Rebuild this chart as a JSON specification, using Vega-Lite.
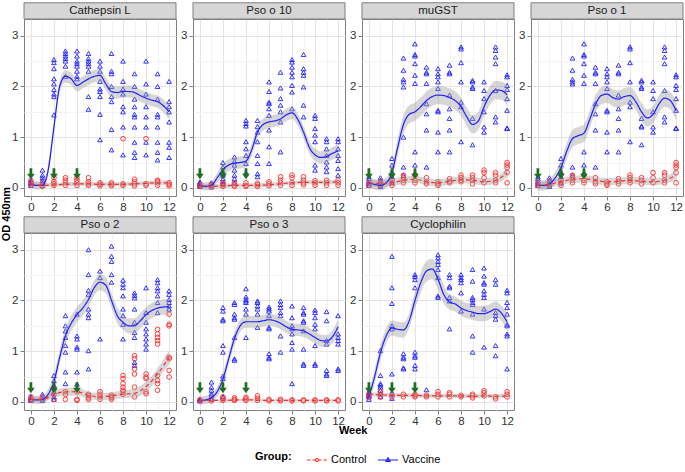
{
"$schema":"https://vega.github.io/schema/vega-lite/v6.json",
"padding":{"left":0,"top":1,"right":0,"bottom":0},
"background":"white",
"data":{"values":[
{"p":"A","n":"Cathepsin L"},{"p":"B","n":"Pso o 10"},{"p":"C","n":"muGST"},{"p":"D","n":"Pso o 1"},{"p":"E","n":"Pso o 2"},{"p":"F","n":"Pso o 3"},{"p":"G","n":"Cyclophilin"},
{"p":"A","t":"OD 450nm"},{"p":"F","t":"Week"},
{"p":"A","a":0},{"p":"A","a":2},{"p":"A","a":4},{"p":"B","a":0},{"p":"B","a":2},{"p":"B","a":4},{"p":"C","a":0},{"p":"C","a":2},{"p":"C","a":4},{"p":"D","a":0},{"p":"D","a":2},{"p":"D","a":4},{"p":"E","a":0},{"p":"E","a":2},{"p":"E","a":4},{"p":"F","a":0},{"p":"F","a":2},{"p":"F","a":4},{"p":"G","a":0},{"p":"G","a":2},{"p":"G","a":4},

{"p":"A","g":"V","w":0,"y":0.05},{"p":"A","g":"V","w":0,"y":0.08},{"p":"A","g":"V","w":0,"y":0.1},{"p":"A","g":"V","w":0,"y":0.12},{"p":"A","g":"V","w":0,"y":0.15},
{"p":"A","g":"V","w":1,"y":0.05},{"p":"A","g":"V","w":1,"y":0.1},{"p":"A","g":"V","w":1,"y":0.15},{"p":"A","g":"V","w":1,"y":0.2},{"p":"A","g":"V","w":1,"y":0.25},{"p":"A","g":"V","w":1,"y":0.35},
{"p":"A","g":"V","w":2,"y":2.53},{"p":"A","g":"V","w":2,"y":2.47},{"p":"A","g":"V","w":2,"y":2.35},{"p":"A","g":"V","w":2,"y":2.15},{"p":"A","g":"V","w":2,"y":2.05},{"p":"A","g":"V","w":2,"y":1.94},{"p":"A","g":"V","w":2,"y":1.85},{"p":"A","g":"V","w":2,"y":1.8},{"p":"A","g":"V","w":2,"y":1.44},
{"p":"A","g":"V","w":3,"y":2.7},{"p":"A","g":"V","w":3,"y":2.65},{"p":"A","g":"V","w":3,"y":2.6},{"p":"A","g":"V","w":3,"y":2.55},{"p":"A","g":"V","w":3,"y":2.5},{"p":"A","g":"V","w":3,"y":2.4},{"p":"A","g":"V","w":3,"y":2.2},
{"p":"A","g":"V","w":4,"y":2.7},{"p":"A","g":"V","w":4,"y":2.6},{"p":"A","g":"V","w":4,"y":2.5},{"p":"A","g":"V","w":4,"y":2.45},{"p":"A","g":"V","w":4,"y":2.4},{"p":"A","g":"V","w":4,"y":2.3},{"p":"A","g":"V","w":4,"y":2.2},{"p":"A","g":"V","w":4,"y":2.15},
{"p":"A","g":"V","w":5,"y":2.65},{"p":"A","g":"V","w":5,"y":2.55},{"p":"A","g":"V","w":5,"y":2.5},{"p":"A","g":"V","w":5,"y":2.45},{"p":"A","g":"V","w":5,"y":2.4},{"p":"A","g":"V","w":5,"y":2.3},{"p":"A","g":"V","w":5,"y":1.8},{"p":"A","g":"V","w":5,"y":1.55},
{"p":"A","g":"V","w":6,"y":2.5},{"p":"A","g":"V","w":6,"y":2.4},{"p":"A","g":"V","w":6,"y":2.3},{"p":"A","g":"V","w":6,"y":2.1},{"p":"A","g":"V","w":6,"y":1.95},{"p":"A","g":"V","w":6,"y":1.9},{"p":"A","g":"V","w":6,"y":1.8},{"p":"A","g":"V","w":6,"y":1.45},{"p":"A","g":"V","w":6,"y":0.95},
{"p":"A","g":"V","w":7,"y":2.65},{"p":"A","g":"V","w":7,"y":2.3},{"p":"A","g":"V","w":7,"y":2.25},{"p":"A","g":"V","w":7,"y":2.0},{"p":"A","g":"V","w":7,"y":1.8},{"p":"A","g":"V","w":7,"y":1.7},{"p":"A","g":"V","w":7,"y":1.15},{"p":"A","g":"V","w":7,"y":0.75},
{"p":"A","g":"V","w":8,"y":2.5},{"p":"A","g":"V","w":8,"y":2.1},{"p":"A","g":"V","w":8,"y":1.95},{"p":"A","g":"V","w":8,"y":1.85},{"p":"A","g":"V","w":8,"y":1.6},{"p":"A","g":"V","w":8,"y":1.5},{"p":"A","g":"V","w":8,"y":1.2},{"p":"A","g":"V","w":8,"y":0.65},
{"p":"A","g":"V","w":9,"y":2.25},{"p":"A","g":"V","w":9,"y":2.0},{"p":"A","g":"V","w":9,"y":1.75},{"p":"A","g":"V","w":9,"y":1.6},{"p":"A","g":"V","w":9,"y":1.45},{"p":"A","g":"V","w":9,"y":1.4},{"p":"A","g":"V","w":9,"y":1.2},{"p":"A","g":"V","w":9,"y":0.9},{"p":"A","g":"V","w":9,"y":0.7},{"p":"A","g":"V","w":9,"y":0.6},
{"p":"A","g":"V","w":10,"y":2.5},{"p":"A","g":"V","w":10,"y":2.05},{"p":"A","g":"V","w":10,"y":1.85},{"p":"A","g":"V","w":10,"y":1.6},{"p":"A","g":"V","w":10,"y":1.4},{"p":"A","g":"V","w":10,"y":1.2},{"p":"A","g":"V","w":10,"y":0.9},{"p":"A","g":"V","w":10,"y":0.65},
{"p":"A","g":"V","w":11,"y":2.25},{"p":"A","g":"V","w":11,"y":2.0},{"p":"A","g":"V","w":11,"y":1.75},{"p":"A","g":"V","w":11,"y":1.45},{"p":"A","g":"V","w":11,"y":1.4},{"p":"A","g":"V","w":11,"y":1.2},{"p":"A","g":"V","w":11,"y":0.9},{"p":"A","g":"V","w":11,"y":0.7},{"p":"A","g":"V","w":11,"y":0.55},
{"p":"A","g":"V","w":12,"y":2.1},{"p":"A","g":"V","w":12,"y":1.7},{"p":"A","g":"V","w":12,"y":1.6},{"p":"A","g":"V","w":12,"y":1.5},{"p":"A","g":"V","w":12,"y":1.3},{"p":"A","g":"V","w":12,"y":0.9},{"p":"A","g":"V","w":12,"y":0.8},{"p":"A","g":"V","w":12,"y":0.6},
{"p":"A","g":"C","w":0,"y":0.05},{"p":"A","g":"C","w":0,"y":0.1},{"p":"A","g":"C","w":0,"y":0.15},
{"p":"A","g":"C","w":1,"y":0.03},{"p":"A","g":"C","w":1,"y":0.05},{"p":"A","g":"C","w":1,"y":0.1},
{"p":"A","g":"C","w":2,"y":0.05},{"p":"A","g":"C","w":2,"y":0.08},{"p":"A","g":"C","w":2,"y":0.12},{"p":"A","g":"C","w":2,"y":0.2},
{"p":"A","g":"C","w":3,"y":0.05},{"p":"A","g":"C","w":3,"y":0.1},{"p":"A","g":"C","w":3,"y":0.15},{"p":"A","g":"C","w":3,"y":0.2},
{"p":"A","g":"C","w":4,"y":0.05},{"p":"A","g":"C","w":4,"y":0.1},{"p":"A","g":"C","w":4,"y":0.15},{"p":"A","g":"C","w":4,"y":0.2},
{"p":"A","g":"C","w":5,"y":0.05},{"p":"A","g":"C","w":5,"y":0.08},{"p":"A","g":"C","w":5,"y":0.12},{"p":"A","g":"C","w":5,"y":0.2},
{"p":"A","g":"C","w":6,"y":0.04},{"p":"A","g":"C","w":6,"y":0.07},{"p":"A","g":"C","w":6,"y":0.1},
{"p":"A","g":"C","w":7,"y":0.04},{"p":"A","g":"C","w":7,"y":0.07},{"p":"A","g":"C","w":7,"y":0.1},
{"p":"A","g":"C","w":8,"y":0.05},{"p":"A","g":"C","w":8,"y":0.08},{"p":"A","g":"C","w":8,"y":0.97},
{"p":"A","g":"C","w":9,"y":0.04},{"p":"A","g":"C","w":9,"y":0.08},{"p":"A","g":"C","w":9,"y":0.12},{"p":"A","g":"C","w":9,"y":0.17},
{"p":"A","g":"C","w":10,"y":0.05},{"p":"A","g":"C","w":10,"y":0.08},{"p":"A","g":"C","w":10,"y":0.97},
{"p":"A","g":"C","w":11,"y":0.05},{"p":"A","g":"C","w":11,"y":0.1},{"p":"A","g":"C","w":11,"y":0.13},{"p":"A","g":"C","w":11,"y":0.15},
{"p":"A","g":"C","w":12,"y":0.04},{"p":"A","g":"C","w":12,"y":0.07},{"p":"A","g":"C","w":12,"y":0.1},

{"p":"B","g":"V","w":0,"y":0.03},{"p":"B","g":"V","w":0,"y":0.05},{"p":"B","g":"V","w":0,"y":0.08},{"p":"B","g":"V","w":0,"y":0.1},{"p":"B","g":"V","w":0,"y":0.12},
{"p":"B","g":"V","w":1,"y":0.02},{"p":"B","g":"V","w":1,"y":0.05},{"p":"B","g":"V","w":1,"y":0.08},{"p":"B","g":"V","w":1,"y":0.1},
{"p":"B","g":"V","w":2,"y":0.5},{"p":"B","g":"V","w":2,"y":0.41},{"p":"B","g":"V","w":2,"y":0.32},{"p":"B","g":"V","w":2,"y":0.25},{"p":"B","g":"V","w":2,"y":0.18},{"p":"B","g":"V","w":2,"y":0.12},{"p":"B","g":"V","w":2,"y":0.08},
{"p":"B","g":"V","w":3,"y":0.61},{"p":"B","g":"V","w":3,"y":0.52},{"p":"B","g":"V","w":3,"y":0.45},{"p":"B","g":"V","w":3,"y":0.35},{"p":"B","g":"V","w":3,"y":0.25},{"p":"B","g":"V","w":3,"y":0.18},{"p":"B","g":"V","w":3,"y":0.1},
{"p":"B","g":"V","w":4,"y":1.33},{"p":"B","g":"V","w":4,"y":1.27},{"p":"B","g":"V","w":4,"y":1.22},{"p":"B","g":"V","w":4,"y":0.91},{"p":"B","g":"V","w":4,"y":0.77},{"p":"B","g":"V","w":4,"y":0.64},{"p":"B","g":"V","w":4,"y":0.48},{"p":"B","g":"V","w":4,"y":0.3},
{"p":"B","g":"V","w":5,"y":1.33},{"p":"B","g":"V","w":5,"y":1.21},{"p":"B","g":"V","w":5,"y":1.1},{"p":"B","g":"V","w":5,"y":0.91},{"p":"B","g":"V","w":5,"y":0.64},{"p":"B","g":"V","w":5,"y":0.48},{"p":"B","g":"V","w":5,"y":0.28},{"p":"B","g":"V","w":5,"y":0.22},
{"p":"B","g":"V","w":6,"y":2.09},{"p":"B","g":"V","w":6,"y":1.9},{"p":"B","g":"V","w":6,"y":1.69},{"p":"B","g":"V","w":6,"y":1.66},{"p":"B","g":"V","w":6,"y":1.56},{"p":"B","g":"V","w":6,"y":1.43},{"p":"B","g":"V","w":6,"y":1.14},{"p":"B","g":"V","w":6,"y":0.81},{"p":"B","g":"V","w":6,"y":0.48},
{"p":"B","g":"V","w":7,"y":2.28},{"p":"B","g":"V","w":7,"y":1.97},{"p":"B","g":"V","w":7,"y":1.76},{"p":"B","g":"V","w":7,"y":1.63},{"p":"B","g":"V","w":7,"y":1.5},{"p":"B","g":"V","w":7,"y":1.3},{"p":"B","g":"V","w":7,"y":0.71},
{"p":"B","g":"V","w":8,"y":2.53},{"p":"B","g":"V","w":8,"y":2.48},{"p":"B","g":"V","w":8,"y":2.38},{"p":"B","g":"V","w":8,"y":2.28},{"p":"B","g":"V","w":8,"y":2.19},{"p":"B","g":"V","w":8,"y":2.02},{"p":"B","g":"V","w":8,"y":1.89},{"p":"B","g":"V","w":8,"y":1.56},
{"p":"B","g":"V","w":9,"y":2.63},{"p":"B","g":"V","w":9,"y":2.35},{"p":"B","g":"V","w":9,"y":2.28},{"p":"B","g":"V","w":9,"y":2.22},{"p":"B","g":"V","w":9,"y":1.99},{"p":"B","g":"V","w":9,"y":1.63},{"p":"B","g":"V","w":9,"y":1.4},
{"p":"B","g":"V","w":10,"y":1.43},{"p":"B","g":"V","w":10,"y":1.37},{"p":"B","g":"V","w":10,"y":1.17},{"p":"B","g":"V","w":10,"y":1.04},{"p":"B","g":"V","w":10,"y":0.91},{"p":"B","g":"V","w":10,"y":0.45},{"p":"B","g":"V","w":10,"y":0.35},
{"p":"B","g":"V","w":11,"y":0.97},{"p":"B","g":"V","w":11,"y":0.91},{"p":"B","g":"V","w":11,"y":0.77},{"p":"B","g":"V","w":11,"y":0.64},{"p":"B","g":"V","w":11,"y":0.51},{"p":"B","g":"V","w":11,"y":0.41},{"p":"B","g":"V","w":11,"y":0.32},
{"p":"B","g":"V","w":12,"y":0.97},{"p":"B","g":"V","w":12,"y":0.91},{"p":"B","g":"V","w":12,"y":0.77},{"p":"B","g":"V","w":12,"y":0.64},{"p":"B","g":"V","w":12,"y":0.54},{"p":"B","g":"V","w":12,"y":0.38},{"p":"B","g":"V","w":12,"y":0.25},
{"p":"B","g":"C","w":0,"y":0.03},{"p":"B","g":"C","w":0,"y":0.06},
{"p":"B","g":"C","w":1,"y":0.02},{"p":"B","g":"C","w":1,"y":0.05},{"p":"B","g":"C","w":1,"y":0.08},
{"p":"B","g":"C","w":2,"y":0.03},{"p":"B","g":"C","w":2,"y":0.06},{"p":"B","g":"C","w":2,"y":0.1},
{"p":"B","g":"C","w":3,"y":0.03},{"p":"B","g":"C","w":3,"y":0.06},{"p":"B","g":"C","w":3,"y":0.1},
{"p":"B","g":"C","w":4,"y":0.03},{"p":"B","g":"C","w":4,"y":0.05},{"p":"B","g":"C","w":4,"y":0.1},
{"p":"B","g":"C","w":5,"y":0.03},{"p":"B","g":"C","w":5,"y":0.06},{"p":"B","g":"C","w":5,"y":0.09},
{"p":"B","g":"C","w":6,"y":0.04},{"p":"B","g":"C","w":6,"y":0.08},{"p":"B","g":"C","w":6,"y":0.12},
{"p":"B","g":"C","w":7,"y":0.05},{"p":"B","g":"C","w":7,"y":0.1},{"p":"B","g":"C","w":7,"y":0.15},{"p":"B","g":"C","w":7,"y":0.22},
{"p":"B","g":"C","w":8,"y":0.05},{"p":"B","g":"C","w":8,"y":0.1},{"p":"B","g":"C","w":8,"y":0.2},{"p":"B","g":"C","w":8,"y":0.25},
{"p":"B","g":"C","w":9,"y":0.06},{"p":"B","g":"C","w":9,"y":0.1},{"p":"B","g":"C","w":9,"y":0.15},{"p":"B","g":"C","w":9,"y":0.22},
{"p":"B","g":"C","w":10,"y":0.05},{"p":"B","g":"C","w":10,"y":0.1},{"p":"B","g":"C","w":10,"y":0.14},
{"p":"B","g":"C","w":11,"y":0.05},{"p":"B","g":"C","w":11,"y":0.1},{"p":"B","g":"C","w":11,"y":0.15},
{"p":"B","g":"C","w":12,"y":0.05},{"p":"B","g":"C","w":12,"y":0.1},{"p":"B","g":"C","w":12,"y":0.15},

{"p":"C","g":"V","w":0,"y":0.05},{"p":"C","g":"V","w":0,"y":0.08},{"p":"C","g":"V","w":0,"y":0.12},{"p":"C","g":"V","w":0,"y":0.18},{"p":"C","g":"V","w":0,"y":0.22},
{"p":"C","g":"V","w":1,"y":0.03},{"p":"C","g":"V","w":1,"y":0.06},{"p":"C","g":"V","w":1,"y":0.1},{"p":"C","g":"V","w":1,"y":0.15},{"p":"C","g":"V","w":1,"y":0.2},
{"p":"C","g":"V","w":2,"y":0.58},{"p":"C","g":"V","w":2,"y":0.45},{"p":"C","g":"V","w":2,"y":0.32},{"p":"C","g":"V","w":2,"y":0.22},{"p":"C","g":"V","w":2,"y":0.1},
{"p":"C","g":"V","w":3,"y":2.56},{"p":"C","g":"V","w":3,"y":2.32},{"p":"C","g":"V","w":3,"y":2.14},{"p":"C","g":"V","w":3,"y":2.09},{"p":"C","g":"V","w":3,"y":1.99},{"p":"C","g":"V","w":3,"y":1.0},{"p":"C","g":"V","w":3,"y":0.41},{"p":"C","g":"V","w":3,"y":0.25},
{"p":"C","g":"V","w":4,"y":2.84},{"p":"C","g":"V","w":4,"y":2.63},{"p":"C","g":"V","w":4,"y":2.6},{"p":"C","g":"V","w":4,"y":2.45},{"p":"C","g":"V","w":4,"y":2.22},{"p":"C","g":"V","w":4,"y":2.06},{"p":"C","g":"V","w":4,"y":0.71},{"p":"C","g":"V","w":4,"y":0.45},{"p":"C","g":"V","w":4,"y":0.3},
{"p":"C","g":"V","w":5,"y":2.38},{"p":"C","g":"V","w":5,"y":2.28},{"p":"C","g":"V","w":5,"y":2.25},{"p":"C","g":"V","w":5,"y":2.06},{"p":"C","g":"V","w":5,"y":1.66},{"p":"C","g":"V","w":5,"y":1.46},{"p":"C","g":"V","w":5,"y":1.14},{"p":"C","g":"V","w":5,"y":0.41},
{"p":"C","g":"V","w":6,"y":2.35},{"p":"C","g":"V","w":6,"y":2.25},{"p":"C","g":"V","w":6,"y":2.19},{"p":"C","g":"V","w":6,"y":2.09},{"p":"C","g":"V","w":6,"y":1.96},{"p":"C","g":"V","w":6,"y":1.53},{"p":"C","g":"V","w":6,"y":1.5},{"p":"C","g":"V","w":6,"y":1.1},{"p":"C","g":"V","w":6,"y":0.71},
{"p":"C","g":"V","w":7,"y":2.42},{"p":"C","g":"V","w":7,"y":2.28},{"p":"C","g":"V","w":7,"y":2.25},{"p":"C","g":"V","w":7,"y":1.83},{"p":"C","g":"V","w":7,"y":1.56},{"p":"C","g":"V","w":7,"y":1.37},{"p":"C","g":"V","w":7,"y":1.14},{"p":"C","g":"V","w":7,"y":0.71},
{"p":"C","g":"V","w":8,"y":2.78},{"p":"C","g":"V","w":8,"y":2.74},{"p":"C","g":"V","w":8,"y":2.47},{"p":"C","g":"V","w":8,"y":2.09},{"p":"C","g":"V","w":8,"y":1.69},{"p":"C","g":"V","w":8,"y":1.6},{"p":"C","g":"V","w":8,"y":0.91},
{"p":"C","g":"V","w":9,"y":2.12},{"p":"C","g":"V","w":9,"y":2.09},{"p":"C","g":"V","w":9,"y":1.99},{"p":"C","g":"V","w":9,"y":1.96},{"p":"C","g":"V","w":9,"y":1.37},{"p":"C","g":"V","w":9,"y":0.85},
{"p":"C","g":"V","w":10,"y":2.09},{"p":"C","g":"V","w":10,"y":1.92},{"p":"C","g":"V","w":10,"y":1.76},{"p":"C","g":"V","w":10,"y":1.5},{"p":"C","g":"V","w":10,"y":1.2},{"p":"C","g":"V","w":10,"y":1.1},
{"p":"C","g":"V","w":11,"y":2.78},{"p":"C","g":"V","w":11,"y":2.71},{"p":"C","g":"V","w":11,"y":2.58},{"p":"C","g":"V","w":11,"y":2.45},{"p":"C","g":"V","w":11,"y":1.92},{"p":"C","g":"V","w":11,"y":1.4},{"p":"C","g":"V","w":11,"y":1.3},
{"p":"C","g":"V","w":12,"y":2.23},{"p":"C","g":"V","w":12,"y":2.19},{"p":"C","g":"V","w":12,"y":2.02},{"p":"C","g":"V","w":12,"y":1.94},{"p":"C","g":"V","w":12,"y":1.76},{"p":"C","g":"V","w":12,"y":1.53},{"p":"C","g":"V","w":12,"y":1.18},{"p":"C","g":"V","w":12,"y":1.17},
{"p":"C","g":"C","w":0,"y":0.05},{"p":"C","g":"C","w":0,"y":0.1},
{"p":"C","g":"C","w":1,"y":0.05},{"p":"C","g":"C","w":1,"y":0.1},{"p":"C","g":"C","w":1,"y":0.12},
{"p":"C","g":"C","w":2,"y":0.05},{"p":"C","g":"C","w":2,"y":0.1},{"p":"C","g":"C","w":2,"y":0.15},
{"p":"C","g":"C","w":3,"y":0.1},{"p":"C","g":"C","w":3,"y":0.15},{"p":"C","g":"C","w":3,"y":0.2},{"p":"C","g":"C","w":3,"y":0.25},
{"p":"C","g":"C","w":4,"y":0.1},{"p":"C","g":"C","w":4,"y":0.15},{"p":"C","g":"C","w":4,"y":0.25},
{"p":"C","g":"C","w":5,"y":0.08},{"p":"C","g":"C","w":5,"y":0.12},{"p":"C","g":"C","w":5,"y":0.2},
{"p":"C","g":"C","w":6,"y":0.05},{"p":"C","g":"C","w":6,"y":0.08},{"p":"C","g":"C","w":6,"y":0.12},
{"p":"C","g":"C","w":7,"y":0.1},{"p":"C","g":"C","w":7,"y":0.13},{"p":"C","g":"C","w":7,"y":0.18},
{"p":"C","g":"C","w":8,"y":0.12},{"p":"C","g":"C","w":8,"y":0.15},{"p":"C","g":"C","w":8,"y":0.2},{"p":"C","g":"C","w":8,"y":0.25},
{"p":"C","g":"C","w":9,"y":0.08},{"p":"C","g":"C","w":9,"y":0.15},{"p":"C","g":"C","w":9,"y":0.2},{"p":"C","g":"C","w":9,"y":0.25},
{"p":"C","g":"C","w":10,"y":0.1},{"p":"C","g":"C","w":10,"y":0.2},{"p":"C","g":"C","w":10,"y":0.3},{"p":"C","g":"C","w":10,"y":0.35},
{"p":"C","g":"C","w":11,"y":0.1},{"p":"C","g":"C","w":11,"y":0.15},{"p":"C","g":"C","w":11,"y":0.25},{"p":"C","g":"C","w":11,"y":0.3},
{"p":"C","g":"C","w":12,"y":0.1},{"p":"C","g":"C","w":12,"y":0.3},{"p":"C","g":"C","w":12,"y":0.4},{"p":"C","g":"C","w":12,"y":0.45},{"p":"C","g":"C","w":12,"y":0.5},

{"p":"D","g":"V","w":0,"y":0.05},{"p":"D","g":"V","w":0,"y":0.08},{"p":"D","g":"V","w":0,"y":0.12},{"p":"D","g":"V","w":0,"y":0.18},{"p":"D","g":"V","w":0,"y":0.22},
{"p":"D","g":"V","w":1,"y":0.03},{"p":"D","g":"V","w":1,"y":0.06},{"p":"D","g":"V","w":1,"y":0.1},{"p":"D","g":"V","w":1,"y":0.15},{"p":"D","g":"V","w":1,"y":0.2},
{"p":"D","g":"V","w":2,"y":0.58},{"p":"D","g":"V","w":2,"y":0.45},{"p":"D","g":"V","w":2,"y":0.32},{"p":"D","g":"V","w":2,"y":0.22},{"p":"D","g":"V","w":2,"y":0.1},
{"p":"D","g":"V","w":3,"y":2.56},{"p":"D","g":"V","w":3,"y":2.32},{"p":"D","g":"V","w":3,"y":2.14},{"p":"D","g":"V","w":3,"y":2.09},{"p":"D","g":"V","w":3,"y":2.05},{"p":"D","g":"V","w":3,"y":0.41},{"p":"D","g":"V","w":3,"y":0.25},
{"p":"D","g":"V","w":4,"y":2.84},{"p":"D","g":"V","w":4,"y":2.63},{"p":"D","g":"V","w":4,"y":2.6},{"p":"D","g":"V","w":4,"y":2.45},{"p":"D","g":"V","w":4,"y":2.22},{"p":"D","g":"V","w":4,"y":2.06},{"p":"D","g":"V","w":4,"y":0.71},{"p":"D","g":"V","w":4,"y":0.45},{"p":"D","g":"V","w":4,"y":0.3},
{"p":"D","g":"V","w":5,"y":2.38},{"p":"D","g":"V","w":5,"y":2.28},{"p":"D","g":"V","w":5,"y":2.25},{"p":"D","g":"V","w":5,"y":2.06},{"p":"D","g":"V","w":5,"y":1.66},{"p":"D","g":"V","w":5,"y":1.46},{"p":"D","g":"V","w":5,"y":1.14},{"p":"D","g":"V","w":5,"y":0.41},
{"p":"D","g":"V","w":6,"y":2.35},{"p":"D","g":"V","w":6,"y":2.25},{"p":"D","g":"V","w":6,"y":2.19},{"p":"D","g":"V","w":6,"y":2.09},{"p":"D","g":"V","w":6,"y":1.96},{"p":"D","g":"V","w":6,"y":1.53},{"p":"D","g":"V","w":6,"y":1.5},{"p":"D","g":"V","w":6,"y":1.1},{"p":"D","g":"V","w":6,"y":0.71},
{"p":"D","g":"V","w":7,"y":2.42},{"p":"D","g":"V","w":7,"y":2.28},{"p":"D","g":"V","w":7,"y":2.25},{"p":"D","g":"V","w":7,"y":1.83},{"p":"D","g":"V","w":7,"y":1.56},{"p":"D","g":"V","w":7,"y":1.37},{"p":"D","g":"V","w":7,"y":1.14},{"p":"D","g":"V","w":7,"y":0.71},
{"p":"D","g":"V","w":8,"y":2.78},{"p":"D","g":"V","w":8,"y":2.74},{"p":"D","g":"V","w":8,"y":2.47},{"p":"D","g":"V","w":8,"y":2.09},{"p":"D","g":"V","w":8,"y":1.69},{"p":"D","g":"V","w":8,"y":1.6},{"p":"D","g":"V","w":8,"y":0.91},
{"p":"D","g":"V","w":9,"y":2.12},{"p":"D","g":"V","w":9,"y":2.09},{"p":"D","g":"V","w":9,"y":1.99},{"p":"D","g":"V","w":9,"y":1.96},{"p":"D","g":"V","w":9,"y":1.37},{"p":"D","g":"V","w":9,"y":1.22},{"p":"D","g":"V","w":9,"y":1.2},{"p":"D","g":"V","w":9,"y":0.85},
{"p":"D","g":"V","w":10,"y":2.09},{"p":"D","g":"V","w":10,"y":1.92},{"p":"D","g":"V","w":10,"y":1.76},{"p":"D","g":"V","w":10,"y":1.5},{"p":"D","g":"V","w":10,"y":1.2},{"p":"D","g":"V","w":10,"y":1.1},
{"p":"D","g":"V","w":11,"y":2.78},{"p":"D","g":"V","w":11,"y":2.71},{"p":"D","g":"V","w":11,"y":2.58},{"p":"D","g":"V","w":11,"y":2.45},{"p":"D","g":"V","w":11,"y":1.92},{"p":"D","g":"V","w":11,"y":1.4},{"p":"D","g":"V","w":11,"y":1.3},
{"p":"D","g":"V","w":12,"y":2.23},{"p":"D","g":"V","w":12,"y":2.19},{"p":"D","g":"V","w":12,"y":2.02},{"p":"D","g":"V","w":12,"y":1.94},{"p":"D","g":"V","w":12,"y":1.76},{"p":"D","g":"V","w":12,"y":1.53},{"p":"D","g":"V","w":12,"y":1.18},{"p":"D","g":"V","w":12,"y":1.17},
{"p":"D","g":"C","w":0,"y":0.05},{"p":"D","g":"C","w":0,"y":0.1},
{"p":"D","g":"C","w":1,"y":0.05},{"p":"D","g":"C","w":1,"y":0.08},{"p":"D","g":"C","w":1,"y":0.12},
{"p":"D","g":"C","w":2,"y":0.05},{"p":"D","g":"C","w":2,"y":0.1},{"p":"D","g":"C","w":2,"y":0.15},
{"p":"D","g":"C","w":3,"y":0.1},{"p":"D","g":"C","w":3,"y":0.15},{"p":"D","g":"C","w":3,"y":0.2},{"p":"D","g":"C","w":3,"y":0.25},
{"p":"D","g":"C","w":4,"y":0.1},{"p":"D","g":"C","w":4,"y":0.15},{"p":"D","g":"C","w":4,"y":0.25},
{"p":"D","g":"C","w":5,"y":0.08},{"p":"D","g":"C","w":5,"y":0.12},{"p":"D","g":"C","w":5,"y":0.2},
{"p":"D","g":"C","w":6,"y":0.05},{"p":"D","g":"C","w":6,"y":0.08},{"p":"D","g":"C","w":6,"y":0.12},
{"p":"D","g":"C","w":7,"y":0.08},{"p":"D","g":"C","w":7,"y":0.13},{"p":"D","g":"C","w":7,"y":0.18},
{"p":"D","g":"C","w":8,"y":0.1},{"p":"D","g":"C","w":8,"y":0.15},{"p":"D","g":"C","w":8,"y":0.2},{"p":"D","g":"C","w":8,"y":0.25},
{"p":"D","g":"C","w":9,"y":0.08},{"p":"D","g":"C","w":9,"y":0.15},{"p":"D","g":"C","w":9,"y":0.2},
{"p":"D","g":"C","w":10,"y":0.1},{"p":"D","g":"C","w":10,"y":0.2},{"p":"D","g":"C","w":10,"y":0.3},
{"p":"D","g":"C","w":11,"y":0.1},{"p":"D","g":"C","w":11,"y":0.15},{"p":"D","g":"C","w":11,"y":0.25},{"p":"D","g":"C","w":11,"y":0.3},
{"p":"D","g":"C","w":12,"y":0.1},{"p":"D","g":"C","w":12,"y":0.3},{"p":"D","g":"C","w":12,"y":0.4},{"p":"D","g":"C","w":12,"y":0.45},{"p":"D","g":"C","w":12,"y":0.5},

{"p":"E","g":"V","w":0,"y":0.03},{"p":"E","g":"V","w":0,"y":0.05},{"p":"E","g":"V","w":0,"y":0.08},{"p":"E","g":"V","w":0,"y":0.1},
{"p":"E","g":"V","w":1,"y":0.03},{"p":"E","g":"V","w":1,"y":0.06},{"p":"E","g":"V","w":1,"y":0.1},{"p":"E","g":"V","w":1,"y":0.15},
{"p":"E","g":"V","w":2,"y":0.52},{"p":"E","g":"V","w":2,"y":0.42},{"p":"E","g":"V","w":2,"y":0.33},{"p":"E","g":"V","w":2,"y":0.2},{"p":"E","g":"V","w":2,"y":0.1},{"p":"E","g":"V","w":2,"y":0.05},
{"p":"E","g":"V","w":3,"y":1.7},{"p":"E","g":"V","w":3,"y":1.5},{"p":"E","g":"V","w":3,"y":1.4},{"p":"E","g":"V","w":3,"y":1.27},{"p":"E","g":"V","w":3,"y":1.11},{"p":"E","g":"V","w":3,"y":0.98},{"p":"E","g":"V","w":3,"y":0.59},{"p":"E","g":"V","w":3,"y":0.36},
{"p":"E","g":"V","w":4,"y":1.73},{"p":"E","g":"V","w":4,"y":1.3},{"p":"E","g":"V","w":4,"y":1.24},{"p":"E","g":"V","w":4,"y":1.08},{"p":"E","g":"V","w":4,"y":1.04},{"p":"E","g":"V","w":4,"y":0.59},{"p":"E","g":"V","w":4,"y":0.35},
{"p":"E","g":"V","w":5,"y":3.0},{"p":"E","g":"V","w":5,"y":2.51},{"p":"E","g":"V","w":5,"y":2.2},{"p":"E","g":"V","w":5,"y":2.12},{"p":"E","g":"V","w":5,"y":1.83},{"p":"E","g":"V","w":5,"y":1.73},{"p":"E","g":"V","w":5,"y":1.66},{"p":"E","g":"V","w":5,"y":1.01},{"p":"E","g":"V","w":5,"y":0.65},
{"p":"E","g":"V","w":6,"y":2.58},{"p":"E","g":"V","w":6,"y":2.45},{"p":"E","g":"V","w":6,"y":1.24},
{"p":"E","g":"V","w":7,"y":3.07},{"p":"E","g":"V","w":7,"y":2.87},{"p":"E","g":"V","w":7,"y":2.77},{"p":"E","g":"V","w":7,"y":2.51},{"p":"E","g":"V","w":7,"y":2.36},
{"p":"E","g":"V","w":8,"y":2.4},{"p":"E","g":"V","w":8,"y":2.32},{"p":"E","g":"V","w":8,"y":2.25},{"p":"E","g":"V","w":8,"y":2.09},{"p":"E","g":"V","w":8,"y":1.83},{"p":"E","g":"V","w":8,"y":1.7},{"p":"E","g":"V","w":8,"y":1.53},{"p":"E","g":"V","w":8,"y":1.24},
{"p":"E","g":"V","w":9,"y":2.15},{"p":"E","g":"V","w":9,"y":2.1},{"p":"E","g":"V","w":9,"y":2.05},{"p":"E","g":"V","w":9,"y":1.83},{"p":"E","g":"V","w":9,"y":1.57},{"p":"E","g":"V","w":9,"y":1.37},{"p":"E","g":"V","w":9,"y":1.27},{"p":"E","g":"V","w":9,"y":0.78},{"p":"E","g":"V","w":9,"y":0.72},
{"p":"E","g":"V","w":10,"y":2.25},{"p":"E","g":"V","w":10,"y":1.76},{"p":"E","g":"V","w":10,"y":1.57},{"p":"E","g":"V","w":10,"y":1.44},{"p":"E","g":"V","w":10,"y":1.34},{"p":"E","g":"V","w":10,"y":1.24},{"p":"E","g":"V","w":10,"y":1.14},{"p":"E","g":"V","w":10,"y":1.04},
{"p":"E","g":"V","w":11,"y":2.41},{"p":"E","g":"V","w":11,"y":2.35},{"p":"E","g":"V","w":11,"y":2.25},{"p":"E","g":"V","w":11,"y":2.19},{"p":"E","g":"V","w":11,"y":2.09},{"p":"E","g":"V","w":11,"y":1.96},{"p":"E","g":"V","w":11,"y":1.76},
{"p":"E","g":"V","w":12,"y":2.19},{"p":"E","g":"V","w":12,"y":2.12},{"p":"E","g":"V","w":12,"y":2.02},{"p":"E","g":"V","w":12,"y":1.96},{"p":"E","g":"V","w":12,"y":1.89},{"p":"E","g":"V","w":12,"y":1.83},
{"p":"E","g":"C","w":0,"y":0.03},{"p":"E","g":"C","w":0,"y":0.05},{"p":"E","g":"C","w":0,"y":0.1},
{"p":"E","g":"C","w":1,"y":0.05},{"p":"E","g":"C","w":1,"y":0.1},
{"p":"E","g":"C","w":2,"y":0.05},{"p":"E","g":"C","w":2,"y":0.15},{"p":"E","g":"C","w":2,"y":0.25},
{"p":"E","g":"C","w":3,"y":0.05},{"p":"E","g":"C","w":3,"y":0.15},{"p":"E","g":"C","w":3,"y":0.2},
{"p":"E","g":"C","w":4,"y":0.03},{"p":"E","g":"C","w":4,"y":0.05},{"p":"E","g":"C","w":4,"y":0.2},
{"p":"E","g":"C","w":5,"y":0.05},{"p":"E","g":"C","w":5,"y":0.08},{"p":"E","g":"C","w":5,"y":0.12},{"p":"E","g":"C","w":5,"y":0.15},
{"p":"E","g":"C","w":6,"y":0.05},{"p":"E","g":"C","w":6,"y":0.1},{"p":"E","g":"C","w":6,"y":0.15},{"p":"E","g":"C","w":6,"y":0.2},
{"p":"E","g":"C","w":7,"y":0.05},{"p":"E","g":"C","w":7,"y":0.08},{"p":"E","g":"C","w":7,"y":0.1},{"p":"E","g":"C","w":7,"y":0.13},
{"p":"E","g":"C","w":8,"y":0.15},{"p":"E","g":"C","w":8,"y":0.2},{"p":"E","g":"C","w":8,"y":0.23},{"p":"E","g":"C","w":8,"y":0.29},{"p":"E","g":"C","w":8,"y":0.36},{"p":"E","g":"C","w":8,"y":0.46},{"p":"E","g":"C","w":8,"y":0.52},
{"p":"E","g":"C","w":9,"y":0.1},{"p":"E","g":"C","w":9,"y":0.29},{"p":"E","g":"C","w":9,"y":0.55},{"p":"E","g":"C","w":9,"y":0.65},{"p":"E","g":"C","w":9,"y":0.85},{"p":"E","g":"C","w":9,"y":0.91},
{"p":"E","g":"C","w":10,"y":0.16},{"p":"E","g":"C","w":10,"y":0.2},{"p":"E","g":"C","w":10,"y":0.46},{"p":"E","g":"C","w":10,"y":0.49},{"p":"E","g":"C","w":10,"y":0.55},
{"p":"E","g":"C","w":11,"y":0.23},{"p":"E","g":"C","w":11,"y":0.36},{"p":"E","g":"C","w":11,"y":0.42},{"p":"E","g":"C","w":11,"y":0.52},{"p":"E","g":"C","w":11,"y":1.14},{"p":"E","g":"C","w":11,"y":1.21},{"p":"E","g":"C","w":11,"y":1.27},{"p":"E","g":"C","w":11,"y":1.34},{"p":"E","g":"C","w":11,"y":1.43},
{"p":"E","g":"C","w":12,"y":0.49},{"p":"E","g":"C","w":12,"y":0.62},{"p":"E","g":"C","w":12,"y":0.85},{"p":"E","g":"C","w":12,"y":0.88},{"p":"E","g":"C","w":12,"y":1.5},{"p":"E","g":"C","w":12,"y":1.53},{"p":"E","g":"C","w":12,"y":1.73},

{"p":"F","g":"V","w":0,"y":0.02},{"p":"F","g":"V","w":0,"y":0.04},{"p":"F","g":"V","w":0,"y":0.06},
{"p":"F","g":"V","w":1,"y":0.39},{"p":"F","g":"V","w":1,"y":0.29},{"p":"F","g":"V","w":1,"y":0.23},{"p":"F","g":"V","w":1,"y":0.16},{"p":"F","g":"V","w":1,"y":0.13},{"p":"F","g":"V","w":1,"y":0.07},{"p":"F","g":"V","w":1,"y":0.05},
{"p":"F","g":"V","w":2,"y":1.86},{"p":"F","g":"V","w":2,"y":1.79},{"p":"F","g":"V","w":2,"y":1.63},{"p":"F","g":"V","w":2,"y":1.6},{"p":"F","g":"V","w":2,"y":1.11},{"p":"F","g":"V","w":2,"y":0.98},{"p":"F","g":"V","w":2,"y":0.51},{"p":"F","g":"V","w":2,"y":0.46},{"p":"F","g":"V","w":2,"y":0.1},
{"p":"F","g":"V","w":3,"y":1.96},{"p":"F","g":"V","w":3,"y":1.92},{"p":"F","g":"V","w":3,"y":1.73},{"p":"F","g":"V","w":3,"y":1.66},{"p":"F","g":"V","w":3,"y":1.63},{"p":"F","g":"V","w":3,"y":1.27},{"p":"F","g":"V","w":3,"y":0.85},{"p":"F","g":"V","w":3,"y":0.82},
{"p":"F","g":"V","w":4,"y":2.23},{"p":"F","g":"V","w":4,"y":2.07},{"p":"F","g":"V","w":4,"y":2.02},{"p":"F","g":"V","w":4,"y":1.99},{"p":"F","g":"V","w":4,"y":1.96},{"p":"F","g":"V","w":4,"y":1.83},{"p":"F","g":"V","w":4,"y":1.73},{"p":"F","g":"V","w":4,"y":1.27},
{"p":"F","g":"V","w":5,"y":1.99},{"p":"F","g":"V","w":5,"y":1.96},{"p":"F","g":"V","w":5,"y":1.89},{"p":"F","g":"V","w":5,"y":1.83},{"p":"F","g":"V","w":5,"y":1.73},{"p":"F","g":"V","w":5,"y":1.47},
{"p":"F","g":"V","w":6,"y":1.87},{"p":"F","g":"V","w":6,"y":1.83},{"p":"F","g":"V","w":6,"y":1.79},{"p":"F","g":"V","w":6,"y":1.7},{"p":"F","g":"V","w":6,"y":1.47},{"p":"F","g":"V","w":6,"y":1.44},{"p":"F","g":"V","w":6,"y":0.95},{"p":"F","g":"V","w":6,"y":0.88},{"p":"F","g":"V","w":6,"y":0.85},
{"p":"F","g":"V","w":7,"y":1.99},{"p":"F","g":"V","w":7,"y":1.92},{"p":"F","g":"V","w":7,"y":1.86},{"p":"F","g":"V","w":7,"y":1.76},{"p":"F","g":"V","w":7,"y":1.7},{"p":"F","g":"V","w":7,"y":1.3},{"p":"F","g":"V","w":7,"y":0.98},
{"p":"F","g":"V","w":8,"y":1.89},{"p":"F","g":"V","w":8,"y":1.66},{"p":"F","g":"V","w":8,"y":1.5},{"p":"F","g":"V","w":8,"y":1.44},{"p":"F","g":"V","w":8,"y":1.34},{"p":"F","g":"V","w":8,"y":1.17},{"p":"F","g":"V","w":8,"y":1.04},{"p":"F","g":"V","w":8,"y":0.36},
{"p":"F","g":"V","w":9,"y":1.86},{"p":"F","g":"V","w":9,"y":1.76},{"p":"F","g":"V","w":9,"y":1.73},{"p":"F","g":"V","w":9,"y":1.6},{"p":"F","g":"V","w":9,"y":1.57},{"p":"F","g":"V","w":9,"y":1.4},{"p":"F","g":"V","w":9,"y":1.04},{"p":"F","g":"V","w":9,"y":0.75},{"p":"F","g":"V","w":9,"y":0.72},
{"p":"F","g":"V","w":10,"y":1.81},{"p":"F","g":"V","w":10,"y":1.76},{"p":"F","g":"V","w":10,"y":1.66},{"p":"F","g":"V","w":10,"y":1.53},{"p":"F","g":"V","w":10,"y":1.44},{"p":"F","g":"V","w":10,"y":1.11},{"p":"F","g":"V","w":10,"y":0.75},{"p":"F","g":"V","w":10,"y":0.72},
{"p":"F","g":"V","w":11,"y":1.78},{"p":"F","g":"V","w":11,"y":1.6},{"p":"F","g":"V","w":11,"y":1.21},{"p":"F","g":"V","w":11,"y":1.14},{"p":"F","g":"V","w":11,"y":0.62},{"p":"F","g":"V","w":11,"y":0.55},{"p":"F","g":"V","w":11,"y":0.52},
{"p":"F","g":"V","w":12,"y":1.7},{"p":"F","g":"V","w":12,"y":1.34},{"p":"F","g":"V","w":12,"y":1.27},{"p":"F","g":"V","w":12,"y":1.21},{"p":"F","g":"V","w":12,"y":1.14},{"p":"F","g":"V","w":12,"y":0.65},{"p":"F","g":"V","w":12,"y":0.62},
{"p":"F","g":"C","w":0,"y":0.02},{"p":"F","g":"C","w":0,"y":0.04},
{"p":"F","g":"C","w":1,"y":0.02},{"p":"F","g":"C","w":1,"y":0.05},
{"p":"F","g":"C","w":2,"y":0.03},{"p":"F","g":"C","w":2,"y":0.06},{"p":"F","g":"C","w":2,"y":0.1},
{"p":"F","g":"C","w":3,"y":0.03},{"p":"F","g":"C","w":3,"y":0.05},{"p":"F","g":"C","w":3,"y":0.08},
{"p":"F","g":"C","w":4,"y":0.03},{"p":"F","g":"C","w":4,"y":0.06},{"p":"F","g":"C","w":4,"y":0.09},
{"p":"F","g":"C","w":5,"y":0.03},{"p":"F","g":"C","w":5,"y":0.07},{"p":"F","g":"C","w":5,"y":0.12},
{"p":"F","g":"C","w":6,"y":0.02},{"p":"F","g":"C","w":6,"y":0.05},
{"p":"F","g":"C","w":7,"y":0.02},{"p":"F","g":"C","w":7,"y":0.05},
{"p":"F","g":"C","w":8,"y":0.02},{"p":"F","g":"C","w":8,"y":0.04},
{"p":"F","g":"C","w":9,"y":0.02},{"p":"F","g":"C","w":9,"y":0.04},
{"p":"F","g":"C","w":10,"y":0.02},{"p":"F","g":"C","w":10,"y":0.04},
{"p":"F","g":"C","w":11,"y":0.02},{"p":"F","g":"C","w":11,"y":0.04},
{"p":"F","g":"C","w":12,"y":0.02},{"p":"F","g":"C","w":12,"y":0.04},

{"p":"G","g":"V","w":0,"y":0.05},{"p":"G","g":"V","w":0,"y":0.1},{"p":"G","g":"V","w":0,"y":0.12},{"p":"G","g":"V","w":0,"y":0.15},{"p":"G","g":"V","w":0,"y":0.2},
{"p":"G","g":"V","w":1,"y":1.01},{"p":"G","g":"V","w":1,"y":0.52},{"p":"G","g":"V","w":1,"y":0.36},{"p":"G","g":"V","w":1,"y":0.33},{"p":"G","g":"V","w":1,"y":0.29},{"p":"G","g":"V","w":1,"y":0.23},{"p":"G","g":"V","w":1,"y":0.16},{"p":"G","g":"V","w":1,"y":0.1},
{"p":"G","g":"V","w":2,"y":2.87},{"p":"G","g":"V","w":2,"y":2.25},{"p":"G","g":"V","w":2,"y":1.94},{"p":"G","g":"V","w":2,"y":1.5},{"p":"G","g":"V","w":2,"y":1.44},{"p":"G","g":"V","w":2,"y":0.55},{"p":"G","g":"V","w":2,"y":0.16},{"p":"G","g":"V","w":2,"y":0.07},
{"p":"G","g":"V","w":3,"y":0.95},{"p":"G","g":"V","w":3,"y":0.88},{"p":"G","g":"V","w":3,"y":0.85},{"p":"G","g":"V","w":3,"y":0.67},{"p":"G","g":"V","w":3,"y":0.65},
{"p":"G","g":"V","w":4,"y":2.51},{"p":"G","g":"V","w":4,"y":2.47},{"p":"G","g":"V","w":4,"y":2.41},{"p":"G","g":"V","w":4,"y":2.25},{"p":"G","g":"V","w":4,"y":0.98},{"p":"G","g":"V","w":4,"y":0.91},{"p":"G","g":"V","w":4,"y":0.88},{"p":"G","g":"V","w":4,"y":0.72},{"p":"G","g":"V","w":4,"y":0.65},
{"p":"G","g":"V","w":5,"y":0.24},
{"p":"G","g":"V","w":6,"y":2.9},{"p":"G","g":"V","w":6,"y":2.84},{"p":"G","g":"V","w":6,"y":2.77},{"p":"G","g":"V","w":6,"y":2.71},{"p":"G","g":"V","w":6,"y":2.61},{"p":"G","g":"V","w":6,"y":2.45},{"p":"G","g":"V","w":6,"y":2.09},{"p":"G","g":"V","w":6,"y":2.06},
{"p":"G","g":"V","w":7,"y":2.51},{"p":"G","g":"V","w":7,"y":2.45},{"p":"G","g":"V","w":7,"y":2.28},{"p":"G","g":"V","w":7,"y":2.25},{"p":"G","g":"V","w":7,"y":2.06},{"p":"G","g":"V","w":7,"y":1.99},{"p":"G","g":"V","w":7,"y":1.44},
{"p":"G","g":"V","w":8,"y":2.51},{"p":"G","g":"V","w":8,"y":2.45},{"p":"G","g":"V","w":8,"y":2.41},{"p":"G","g":"V","w":8,"y":2.35},{"p":"G","g":"V","w":8,"y":2.15},{"p":"G","g":"V","w":8,"y":1.79},
{"p":"G","g":"V","w":9,"y":2.61},{"p":"G","g":"V","w":9,"y":2.38},{"p":"G","g":"V","w":9,"y":2.06},{"p":"G","g":"V","w":9,"y":2.02},{"p":"G","g":"V","w":9,"y":1.96},{"p":"G","g":"V","w":9,"y":1.92},{"p":"G","g":"V","w":9,"y":1.73},{"p":"G","g":"V","w":9,"y":1.3},{"p":"G","g":"V","w":9,"y":0.98},
{"p":"G","g":"V","w":10,"y":2.64},{"p":"G","g":"V","w":10,"y":2.48},{"p":"G","g":"V","w":10,"y":2.35},{"p":"G","g":"V","w":10,"y":2.32},{"p":"G","g":"V","w":10,"y":2.19},{"p":"G","g":"V","w":10,"y":2.12},{"p":"G","g":"V","w":10,"y":2.06},{"p":"G","g":"V","w":10,"y":1.83},{"p":"G","g":"V","w":10,"y":1.08},
{"p":"G","g":"V","w":11,"y":2.41},{"p":"G","g":"V","w":11,"y":2.32},{"p":"G","g":"V","w":11,"y":1.76},{"p":"G","g":"V","w":11,"y":1.7},{"p":"G","g":"V","w":11,"y":1.63},{"p":"G","g":"V","w":11,"y":1.11},{"p":"G","g":"V","w":11,"y":0.91},
{"p":"G","g":"V","w":12,"y":2.2},{"p":"G","g":"V","w":12,"y":2.15},{"p":"G","g":"V","w":12,"y":1.96},{"p":"G","g":"V","w":12,"y":1.86},{"p":"G","g":"V","w":12,"y":1.73},{"p":"G","g":"V","w":12,"y":1.53},{"p":"G","g":"V","w":12,"y":1.5},{"p":"G","g":"V","w":12,"y":1.34},{"p":"G","g":"V","w":12,"y":1.3},{"p":"G","g":"V","w":12,"y":0.65},
{"p":"G","g":"C","w":0,"y":0.1},{"p":"G","g":"C","w":0,"y":0.15},
{"p":"G","g":"C","w":1,"y":0.1},{"p":"G","g":"C","w":1,"y":0.15},{"p":"G","g":"C","w":1,"y":0.2},
{"p":"G","g":"C","w":2,"y":0.1},{"p":"G","g":"C","w":2,"y":0.15},
{"p":"G","g":"C","w":3,"y":0.1},{"p":"G","g":"C","w":3,"y":0.15},
{"p":"G","g":"C","w":4,"y":0.1},{"p":"G","g":"C","w":4,"y":0.12},{"p":"G","g":"C","w":4,"y":0.15},
{"p":"G","g":"C","w":5,"y":0.1},{"p":"G","g":"C","w":5,"y":0.13},
{"p":"G","g":"C","w":6,"y":0.1},{"p":"G","g":"C","w":6,"y":0.15},{"p":"G","g":"C","w":6,"y":0.2},
{"p":"G","g":"C","w":7,"y":0.1},{"p":"G","g":"C","w":7,"y":0.15},{"p":"G","g":"C","w":7,"y":0.18},
{"p":"G","g":"C","w":8,"y":0.1},{"p":"G","g":"C","w":8,"y":0.13},
{"p":"G","g":"C","w":9,"y":0.08},{"p":"G","g":"C","w":9,"y":0.12},{"p":"G","g":"C","w":9,"y":0.15},
{"p":"G","g":"C","w":10,"y":0.12},{"p":"G","g":"C","w":10,"y":0.18},{"p":"G","g":"C","w":10,"y":0.22},
{"p":"G","g":"C","w":11,"y":0.06},{"p":"G","g":"C","w":11,"y":0.1},
{"p":"G","g":"C","w":12,"y":0.1},{"p":"G","g":"C","w":12,"y":0.15},{"p":"G","g":"C","w":12,"y":0.2},

{"p":"A","g":"V","w":0,"f":0.08,"l":0,"h":0.16},{"p":"A","g":"V","w":0.5,"f":0.05,"l":-0.03,"h":0.13},{"p":"A","g":"V","w":1,"f":0.05,"l":-0.03,"h":0.13},{"p":"A","g":"V","w":1.5,"f":0.35,"l":0.23,"h":0.47},{"p":"A","g":"V","w":2,"f":1.2,"l":1.08,"h":1.32},{"p":"A","g":"V","w":2.5,"f":2.0,"l":1.88,"h":2.12},{"p":"A","g":"V","w":3,"f":2.2,"l":2.08,"h":2.32},{"p":"A","g":"V","w":3.5,"f":2.15,"l":2.03,"h":2.27},{"p":"A","g":"V","w":4,"f":2.02,"l":1.9,"h":2.14},{"p":"A","g":"V","w":4.5,"f":2.08,"l":1.96,"h":2.2},{"p":"A","g":"V","w":5,"f":2.15,"l":2.03,"h":2.27},{"p":"A","g":"V","w":5.5,"f":2.2,"l":2.08,"h":2.32},{"p":"A","g":"V","w":6,"f":2.22,"l":2.1,"h":2.34},{"p":"A","g":"V","w":6.5,"f":2.05,"l":1.93,"h":2.17},{"p":"A","g":"V","w":7,"f":1.9,"l":1.78,"h":2.02},{"p":"A","g":"V","w":7.5,"f":1.88,"l":1.76,"h":2.0},{"p":"A","g":"V","w":8,"f":1.9,"l":1.78,"h":2.02},{"p":"A","g":"V","w":8.5,"f":1.9,"l":1.78,"h":2.02},{"p":"A","g":"V","w":9,"f":1.88,"l":1.76,"h":2.0},{"p":"A","g":"V","w":9.5,"f":1.82,"l":1.7,"h":1.94},{"p":"A","g":"V","w":10,"f":1.77,"l":1.65,"h":1.89},{"p":"A","g":"V","w":10.5,"f":1.73,"l":1.61,"h":1.85},{"p":"A","g":"V","w":11,"f":1.7,"l":1.58,"h":1.82},{"p":"A","g":"V","w":11.5,"f":1.62,"l":1.49,"h":1.75},{"p":"A","g":"V","w":12,"f":1.5,"l":1.35,"h":1.65},
{"p":"A","g":"C","w":0,"f":0.08,"l":0.04,"h":0.12},{"p":"A","g":"C","w":1,"f":0.05,"l":0.01,"h":0.09},{"p":"A","g":"C","w":2,"f":0.06,"l":0.02,"h":0.1},{"p":"A","g":"C","w":3,"f":0.07,"l":0.03,"h":0.11},{"p":"A","g":"C","w":4,"f":0.08,"l":0.04,"h":0.12},{"p":"A","g":"C","w":5,"f":0.08,"l":0.04,"h":0.12},{"p":"A","g":"C","w":6,"f":0.07,"l":0.03,"h":0.11},{"p":"A","g":"C","w":7,"f":0.07,"l":0.03,"h":0.11},{"p":"A","g":"C","w":8,"f":0.07,"l":0.03,"h":0.11},{"p":"A","g":"C","w":9,"f":0.08,"l":0.04,"h":0.12},{"p":"A","g":"C","w":10,"f":0.09,"l":0.05,"h":0.13},{"p":"A","g":"C","w":11,"f":0.1,"l":0.06,"h":0.14},{"p":"A","g":"C","w":12,"f":0.1,"l":0.05,"h":0.15},

{"p":"B","g":"V","w":0,"f":0.05,"l":-0.03,"h":0.13},{"p":"B","g":"V","w":0.5,"f":0.03,"l":-0.05,"h":0.11},{"p":"B","g":"V","w":1,"f":0.05,"l":-0.03,"h":0.13},{"p":"B","g":"V","w":1.5,"f":0.2,"l":0.1,"h":0.3},{"p":"B","g":"V","w":2,"f":0.36,"l":0.24,"h":0.48},{"p":"B","g":"V","w":2.5,"f":0.45,"l":0.33,"h":0.57},{"p":"B","g":"V","w":3,"f":0.49,"l":0.37,"h":0.61},{"p":"B","g":"V","w":3.5,"f":0.5,"l":0.38,"h":0.62},{"p":"B","g":"V","w":4,"f":0.53,"l":0.41,"h":0.65},{"p":"B","g":"V","w":4.5,"f":0.75,"l":0.63,"h":0.87},{"p":"B","g":"V","w":5,"f":1.1,"l":0.98,"h":1.22},{"p":"B","g":"V","w":5.5,"f":1.25,"l":1.13,"h":1.37},{"p":"B","g":"V","w":6,"f":1.3,"l":1.18,"h":1.42},{"p":"B","g":"V","w":6.5,"f":1.32,"l":1.2,"h":1.44},{"p":"B","g":"V","w":7,"f":1.36,"l":1.24,"h":1.48},{"p":"B","g":"V","w":7.5,"f":1.44,"l":1.32,"h":1.56},{"p":"B","g":"V","w":8,"f":1.48,"l":1.36,"h":1.6},{"p":"B","g":"V","w":8.5,"f":1.35,"l":1.23,"h":1.47},{"p":"B","g":"V","w":9,"f":1.1,"l":0.98,"h":1.22},{"p":"B","g":"V","w":9.5,"f":0.8,"l":0.68,"h":0.92},{"p":"B","g":"V","w":10,"f":0.65,"l":0.53,"h":0.77},{"p":"B","g":"V","w":10.5,"f":0.6,"l":0.48,"h":0.72},{"p":"B","g":"V","w":11,"f":0.62,"l":0.5,"h":0.74},{"p":"B","g":"V","w":11.5,"f":0.68,"l":0.56,"h":0.8},{"p":"B","g":"V","w":12,"f":0.73,"l":0.6,"h":0.86},
{"p":"B","g":"C","w":0,"f":0.05,"l":0.01,"h":0.09},{"p":"B","g":"C","w":1,"f":0.03,"l":-0.01,"h":0.07},{"p":"B","g":"C","w":2,"f":0.04,"l":0,"h":0.08},{"p":"B","g":"C","w":3,"f":0.05,"l":0.01,"h":0.09},{"p":"B","g":"C","w":4,"f":0.05,"l":0.01,"h":0.09},{"p":"B","g":"C","w":5,"f":0.05,"l":0.01,"h":0.09},{"p":"B","g":"C","w":6,"f":0.06,"l":0.02,"h":0.1},{"p":"B","g":"C","w":7,"f":0.08,"l":0.04,"h":0.12},{"p":"B","g":"C","w":8,"f":0.1,"l":0.06,"h":0.14},{"p":"B","g":"C","w":9,"f":0.11,"l":0.07,"h":0.15},{"p":"B","g":"C","w":10,"f":0.11,"l":0.07,"h":0.15},{"p":"B","g":"C","w":11,"f":0.11,"l":0.07,"h":0.15},{"p":"B","g":"C","w":12,"f":0.12,"l":0.07,"h":0.17},

{"p":"C","g":"V","w":0,"f":0.1,"l":0,"h":0.2},{"p":"C","g":"V","w":0.5,"f":0.07,"l":-0.03,"h":0.17},{"p":"C","g":"V","w":1,"f":0.05,"l":-0.05,"h":0.15},{"p":"C","g":"V","w":1.5,"f":0.1,"l":0,"h":0.2},{"p":"C","g":"V","w":2,"f":0.3,"l":0.17,"h":0.43},{"p":"C","g":"V","w":2.5,"f":0.8,"l":0.64,"h":0.96},{"p":"C","g":"V","w":3,"f":1.25,"l":1.07,"h":1.43},{"p":"C","g":"V","w":3.5,"f":1.45,"l":1.27,"h":1.63},{"p":"C","g":"V","w":4,"f":1.5,"l":1.32,"h":1.68},{"p":"C","g":"V","w":4.5,"f":1.6,"l":1.42,"h":1.78},{"p":"C","g":"V","w":5,"f":1.72,"l":1.54,"h":1.9},{"p":"C","g":"V","w":5.5,"f":1.8,"l":1.62,"h":1.98},{"p":"C","g":"V","w":6,"f":1.83,"l":1.65,"h":2.01},{"p":"C","g":"V","w":6.5,"f":1.82,"l":1.64,"h":2.0},{"p":"C","g":"V","w":7,"f":1.78,"l":1.6,"h":1.96},{"p":"C","g":"V","w":7.5,"f":1.72,"l":1.54,"h":1.9},{"p":"C","g":"V","w":8,"f":1.6,"l":1.42,"h":1.78},{"p":"C","g":"V","w":8.5,"f":1.4,"l":1.22,"h":1.58},{"p":"C","g":"V","w":9,"f":1.25,"l":1.07,"h":1.43},{"p":"C","g":"V","w":9.5,"f":1.32,"l":1.14,"h":1.5},{"p":"C","g":"V","w":10,"f":1.6,"l":1.42,"h":1.78},{"p":"C","g":"V","w":10.5,"f":1.82,"l":1.64,"h":2.0},{"p":"C","g":"V","w":11,"f":1.93,"l":1.75,"h":2.11},{"p":"C","g":"V","w":11.5,"f":1.92,"l":1.74,"h":2.1},{"p":"C","g":"V","w":12,"f":1.83,"l":1.63,"h":2.03},
{"p":"C","g":"C","w":0,"f":0.1,"l":0.03,"h":0.17},{"p":"C","g":"C","w":1,"f":0.08,"l":0.01,"h":0.15},{"p":"C","g":"C","w":2,"f":0.1,"l":0.03,"h":0.17},{"p":"C","g":"C","w":3,"f":0.15,"l":0.08,"h":0.22},{"p":"C","g":"C","w":4,"f":0.17,"l":0.1,"h":0.24},{"p":"C","g":"C","w":5,"f":0.12,"l":0.05,"h":0.19},{"p":"C","g":"C","w":6,"f":0.1,"l":0.03,"h":0.17},{"p":"C","g":"C","w":7,"f":0.13,"l":0.06,"h":0.2},{"p":"C","g":"C","w":8,"f":0.16,"l":0.09,"h":0.23},{"p":"C","g":"C","w":9,"f":0.15,"l":0.08,"h":0.22},{"p":"C","g":"C","w":10,"f":0.12,"l":0.05,"h":0.19},{"p":"C","g":"C","w":11,"f":0.15,"l":0.08,"h":0.22},{"p":"C","g":"C","w":12,"f":0.3,"l":0.2,"h":0.4},

{"p":"D","g":"V","w":0,"f":0.05,"l":-0.05,"h":0.15},{"p":"D","g":"V","w":0.5,"f":0.05,"l":-0.05,"h":0.15},{"p":"D","g":"V","w":1,"f":0.08,"l":-0.02,"h":0.18},{"p":"D","g":"V","w":1.5,"f":0.2,"l":0.08,"h":0.32},{"p":"D","g":"V","w":2,"f":0.4,"l":0.26,"h":0.54},{"p":"D","g":"V","w":2.5,"f":0.72,"l":0.56,"h":0.88},{"p":"D","g":"V","w":3,"f":0.97,"l":0.8,"h":1.14},{"p":"D","g":"V","w":3.5,"f":1.03,"l":0.86,"h":1.2},{"p":"D","g":"V","w":4,"f":1.08,"l":0.91,"h":1.25},{"p":"D","g":"V","w":4.5,"f":1.35,"l":1.18,"h":1.52},{"p":"D","g":"V","w":5,"f":1.65,"l":1.48,"h":1.82},{"p":"D","g":"V","w":5.5,"f":1.82,"l":1.65,"h":1.99},{"p":"D","g":"V","w":6,"f":1.85,"l":1.68,"h":2.02},{"p":"D","g":"V","w":6.5,"f":1.78,"l":1.61,"h":1.95},{"p":"D","g":"V","w":7,"f":1.75,"l":1.58,"h":1.92},{"p":"D","g":"V","w":7.5,"f":1.8,"l":1.63,"h":1.97},{"p":"D","g":"V","w":8,"f":1.82,"l":1.65,"h":1.99},{"p":"D","g":"V","w":8.5,"f":1.7,"l":1.53,"h":1.87},{"p":"D","g":"V","w":9,"f":1.5,"l":1.33,"h":1.67},{"p":"D","g":"V","w":9.5,"f":1.38,"l":1.21,"h":1.55},{"p":"D","g":"V","w":10,"f":1.45,"l":1.28,"h":1.62},{"p":"D","g":"V","w":10.5,"f":1.65,"l":1.48,"h":1.82},{"p":"D","g":"V","w":11,"f":1.77,"l":1.6,"h":1.94},{"p":"D","g":"V","w":11.5,"f":1.72,"l":1.55,"h":1.89},{"p":"D","g":"V","w":12,"f":1.52,"l":1.33,"h":1.71},
{"p":"D","g":"C","w":0,"f":0.05,"l":-0.02,"h":0.12},{"p":"D","g":"C","w":1,"f":0.07,"l":0,"h":0.14},{"p":"D","g":"C","w":2,"f":0.12,"l":0.05,"h":0.19},{"p":"D","g":"C","w":3,"f":0.17,"l":0.1,"h":0.24},{"p":"D","g":"C","w":4,"f":0.18,"l":0.11,"h":0.25},{"p":"D","g":"C","w":5,"f":0.15,"l":0.08,"h":0.22},{"p":"D","g":"C","w":6,"f":0.12,"l":0.05,"h":0.19},{"p":"D","g":"C","w":7,"f":0.13,"l":0.06,"h":0.2},{"p":"D","g":"C","w":8,"f":0.15,"l":0.08,"h":0.22},{"p":"D","g":"C","w":9,"f":0.13,"l":0.06,"h":0.2},{"p":"D","g":"C","w":10,"f":0.12,"l":0.05,"h":0.19},{"p":"D","g":"C","w":11,"f":0.15,"l":0.08,"h":0.22},{"p":"D","g":"C","w":12,"f":0.25,"l":0.15,"h":0.35},

{"p":"E","g":"V","w":0,"f":0.05,"l":-0.03,"h":0.13},{"p":"E","g":"V","w":0.5,"f":0.04,"l":-0.04,"h":0.12},{"p":"E","g":"V","w":1,"f":0.05,"l":-0.03,"h":0.13},{"p":"E","g":"V","w":1.5,"f":0.15,"l":0.05,"h":0.25},{"p":"E","g":"V","w":2,"f":0.4,"l":0.27,"h":0.53},{"p":"E","g":"V","w":2.5,"f":0.88,"l":0.74,"h":1.02},{"p":"E","g":"V","w":3,"f":1.3,"l":1.15,"h":1.45},{"p":"E","g":"V","w":3.5,"f":1.55,"l":1.4,"h":1.7},{"p":"E","g":"V","w":4,"f":1.72,"l":1.57,"h":1.87},{"p":"E","g":"V","w":4.5,"f":1.85,"l":1.7,"h":2.0},{"p":"E","g":"V","w":5,"f":2.02,"l":1.87,"h":2.17},{"p":"E","g":"V","w":5.5,"f":2.25,"l":2.1,"h":2.4},{"p":"E","g":"V","w":6,"f":2.36,"l":2.2,"h":2.52},{"p":"E","g":"V","w":6.5,"f":2.3,"l":2.14,"h":2.46},{"p":"E","g":"V","w":7,"f":2.0,"l":1.85,"h":2.15},{"p":"E","g":"V","w":7.5,"f":1.7,"l":1.55,"h":1.85},{"p":"E","g":"V","w":8,"f":1.57,"l":1.42,"h":1.72},{"p":"E","g":"V","w":8.5,"f":1.5,"l":1.35,"h":1.65},{"p":"E","g":"V","w":9,"f":1.5,"l":1.35,"h":1.65},{"p":"E","g":"V","w":9.5,"f":1.6,"l":1.45,"h":1.75},{"p":"E","g":"V","w":10,"f":1.72,"l":1.57,"h":1.87},{"p":"E","g":"V","w":10.5,"f":1.8,"l":1.65,"h":1.95},{"p":"E","g":"V","w":11,"f":1.85,"l":1.7,"h":2.0},{"p":"E","g":"V","w":11.5,"f":1.87,"l":1.72,"h":2.02},{"p":"E","g":"V","w":12,"f":1.88,"l":1.71,"h":2.05},
{"p":"E","g":"C","w":0,"f":0.05,"l":0,"h":0.1},{"p":"E","g":"C","w":1,"f":0.05,"l":0,"h":0.1},{"p":"E","g":"C","w":2,"f":0.15,"l":0.08,"h":0.22},{"p":"E","g":"C","w":3,"f":0.2,"l":0.12,"h":0.28},{"p":"E","g":"C","w":4,"f":0.2,"l":0.12,"h":0.28},{"p":"E","g":"C","w":5,"f":0.13,"l":0.06,"h":0.2},{"p":"E","g":"C","w":6,"f":0.1,"l":0.03,"h":0.17},{"p":"E","g":"C","w":7,"f":0.12,"l":0.05,"h":0.19},{"p":"E","g":"C","w":8,"f":0.15,"l":0.07,"h":0.23},{"p":"E","g":"C","w":9,"f":0.17,"l":0.08,"h":0.26},{"p":"E","g":"C","w":10,"f":0.3,"l":0.2,"h":0.4},{"p":"E","g":"C","w":11,"f":0.55,"l":0.44,"h":0.66},{"p":"E","g":"C","w":12,"f":0.88,"l":0.74,"h":1.02},

{"p":"F","g":"V","w":0,"f":0.02,"l":-0.06,"h":0.1},{"p":"F","g":"V","w":0.5,"f":0.04,"l":-0.04,"h":0.12},{"p":"F","g":"V","w":1,"f":0.08,"l":0,"h":0.16},{"p":"F","g":"V","w":1.5,"f":0.2,"l":0.1,"h":0.3},{"p":"F","g":"V","w":2,"f":0.45,"l":0.33,"h":0.57},{"p":"F","g":"V","w":2.5,"f":0.85,"l":0.73,"h":0.97},{"p":"F","g":"V","w":3,"f":1.25,"l":1.13,"h":1.37},{"p":"F","g":"V","w":3.5,"f":1.5,"l":1.38,"h":1.62},{"p":"F","g":"V","w":4,"f":1.58,"l":1.46,"h":1.7},{"p":"F","g":"V","w":4.5,"f":1.58,"l":1.46,"h":1.7},{"p":"F","g":"V","w":5,"f":1.58,"l":1.46,"h":1.7},{"p":"F","g":"V","w":5.5,"f":1.6,"l":1.48,"h":1.72},{"p":"F","g":"V","w":6,"f":1.62,"l":1.5,"h":1.74},{"p":"F","g":"V","w":6.5,"f":1.6,"l":1.48,"h":1.72},{"p":"F","g":"V","w":7,"f":1.55,"l":1.43,"h":1.67},{"p":"F","g":"V","w":7.5,"f":1.48,"l":1.36,"h":1.6},{"p":"F","g":"V","w":8,"f":1.43,"l":1.31,"h":1.55},{"p":"F","g":"V","w":8.5,"f":1.42,"l":1.3,"h":1.54},{"p":"F","g":"V","w":9,"f":1.4,"l":1.28,"h":1.52},{"p":"F","g":"V","w":9.5,"f":1.34,"l":1.22,"h":1.46},{"p":"F","g":"V","w":10,"f":1.27,"l":1.15,"h":1.39},{"p":"F","g":"V","w":10.5,"f":1.21,"l":1.09,"h":1.33},{"p":"F","g":"V","w":11,"f":1.2,"l":1.08,"h":1.32},{"p":"F","g":"V","w":11.5,"f":1.28,"l":1.15,"h":1.41},{"p":"F","g":"V","w":12,"f":1.48,"l":1.32,"h":1.64},
{"p":"F","g":"C","w":0,"f":0.03,"l":0.01,"h":0.05},{"p":"F","g":"C","w":2,"f":0.03,"l":0.01,"h":0.05},{"p":"F","g":"C","w":4,"f":0.04,"l":0.02,"h":0.06},{"p":"F","g":"C","w":6,"f":0.03,"l":0.01,"h":0.05},{"p":"F","g":"C","w":8,"f":0.03,"l":0.01,"h":0.05},{"p":"F","g":"C","w":10,"f":0.03,"l":0.01,"h":0.05},{"p":"F","g":"C","w":12,"f":0.03,"l":0.01,"h":0.05},

{"p":"G","g":"V","w":0,"f":0.1,"l":0,"h":0.2},{"p":"G","g":"V","w":0.5,"f":0.5,"l":0.36,"h":0.64},{"p":"G","g":"V","w":1,"f":0.97,"l":0.82,"h":1.12},{"p":"G","g":"V","w":1.5,"f":1.3,"l":1.15,"h":1.45},{"p":"G","g":"V","w":2,"f":1.46,"l":1.31,"h":1.61},{"p":"G","g":"V","w":2.5,"f":1.43,"l":1.28,"h":1.58},{"p":"G","g":"V","w":3,"f":1.42,"l":1.27,"h":1.57},{"p":"G","g":"V","w":3.5,"f":1.6,"l":1.45,"h":1.75},{"p":"G","g":"V","w":4,"f":2.0,"l":1.83,"h":2.17},{"p":"G","g":"V","w":4.5,"f":2.35,"l":2.15,"h":2.55},{"p":"G","g":"V","w":5,"f":2.58,"l":2.38,"h":2.78},{"p":"G","g":"V","w":5.5,"f":2.62,"l":2.42,"h":2.82},{"p":"G","g":"V","w":6,"f":2.42,"l":2.22,"h":2.62},{"p":"G","g":"V","w":6.5,"f":2.12,"l":1.94,"h":2.3},{"p":"G","g":"V","w":7,"f":1.97,"l":1.82,"h":2.12},{"p":"G","g":"V","w":7.5,"f":1.93,"l":1.78,"h":2.08},{"p":"G","g":"V","w":8,"f":1.85,"l":1.7,"h":2.0},{"p":"G","g":"V","w":8.5,"f":1.8,"l":1.65,"h":1.95},{"p":"G","g":"V","w":9,"f":1.77,"l":1.62,"h":1.92},{"p":"G","g":"V","w":9.5,"f":1.74,"l":1.59,"h":1.89},{"p":"G","g":"V","w":10,"f":1.74,"l":1.59,"h":1.89},{"p":"G","g":"V","w":10.5,"f":1.78,"l":1.63,"h":1.93},{"p":"G","g":"V","w":11,"f":1.83,"l":1.68,"h":1.98},{"p":"G","g":"V","w":11.5,"f":1.75,"l":1.6,"h":1.9},{"p":"G","g":"V","w":12,"f":1.58,"l":1.4,"h":1.76},
{"p":"G","g":"C","w":0,"f":0.15,"l":0.11,"h":0.19},{"p":"G","g":"C","w":1,"f":0.14,"l":0.1,"h":0.18},{"p":"G","g":"C","w":2,"f":0.13,"l":0.09,"h":0.17},{"p":"G","g":"C","w":3,"f":0.13,"l":0.09,"h":0.17},{"p":"G","g":"C","w":4,"f":0.13,"l":0.09,"h":0.17},{"p":"G","g":"C","w":5,"f":0.12,"l":0.08,"h":0.16},{"p":"G","g":"C","w":6,"f":0.12,"l":0.08,"h":0.16},{"p":"G","g":"C","w":7,"f":0.12,"l":0.08,"h":0.16},{"p":"G","g":"C","w":8,"f":0.12,"l":0.08,"h":0.16},{"p":"G","g":"C","w":9,"f":0.11,"l":0.07,"h":0.15},{"p":"G","g":"C","w":10,"f":0.12,"l":0.08,"h":0.16},{"p":"G","g":"C","w":11,"f":0.11,"l":0.07,"h":0.15},{"p":"G","g":"C","w":12,"f":0.12,"l":0.08,"h":0.16}
]},
"facet":{"field":"p","type":"nominal","header":{"title":null,"labels":false,"labelFontSize":0,"labelPadding":0,"labelExpr":"''"}},
"columns":4,
"bounds":"flush",
"spacing":{"column":17,"row":37},
"resolve":{"axis":{"x":"independent","y":"independent"}},
"spec":{
"width":152,"height":177,
"layer":[
{"transform":[{"filter":"datum.y != null"}],
 "mark":{"type":"point","filled":false,"size":22,"strokeWidth":0.9,"opacity":1},
 "encoding":{
  "x":{"field":"w","type":"quantitative","scale":{"domain":[-0.6,12.6],"nice":false,"zero":false},
   "axis":{"title":null,"values":[0,1,2,3,4,5,6,7,8,9,10,11,12],"tickCount":20,"labelExpr":"datum.value % 2 == 0 ? toString(datum.value) : ''","labelOverlap":false,"labelFlush":false,"tickOpacity":{"condition":{"test":"datum.value % 2 != 0","value":0},"value":1},"gridColor":{"condition":{"test":"datum.value % 2 != 0","value":"#f3f3f3"},"value":"#e4e4e4"},"labelPadding":1}},
  "y":{"field":"y","type":"quantitative","scale":{"domain":[-0.16,3.33],"nice":false,"zero":false},
   "axis":{"title":null,"values":[0,0.5,1,1.5,2,2.5,3],"tickCount":20,"labelExpr":"datum.value % 1 == 0 ? toString(datum.value) : ''","labelOverlap":false,"labelFlush":false,"tickOpacity":{"condition":{"test":"datum.value % 1 != 0","value":0},"value":1},"gridColor":{"condition":{"test":"datum.value % 1 != 0","value":"#f3f3f3"},"value":"#e4e4e4"}}},
  "shape":{"condition":{"test":"datum.g == 'C'","value":"circle"},"value":"triangle-up"},
  "color":{"field":"g","type":"nominal","scale":{"domain":["C","V"],"range":["#ff2a2a","#2020ff"]}}
 }},
{"transform":[{"filter":"datum.f != null"}],
 "mark":{"type":"area","interpolate":"monotone","fill":"#999999","opacity":0.4},
 "encoding":{
  "x":{"field":"w","type":"quantitative","axis":{"title":null}},
  "y":{"field":"l","type":"quantitative","axis":{"title":null}},
  "y2":{"field":"h"},
  "detail":{"field":"g"}
 }},
{"transform":[{"filter":"datum.f != null"}],
 "mark":{"type":"line","interpolate":"monotone","strokeWidth":1.2},
 "encoding":{
  "x":{"field":"w","type":"quantitative","axis":{"title":null}},
  "y":{"field":"f","type":"quantitative","axis":{"title":null}},
  "color":{"field":"g","type":"nominal","legend":{"title":"Group:","orient":"none","legendX":231,"legendY":430,"direction":"horizontal","titleOrient":"left","titleFontSize":11,"titleFontWeight":"bold","titleColor":"#000","labelFontSize":11,"labelColor":"#000","symbolSize":400,"symbolStrokeWidth":1.2,"labelExpr":"datum.label == 'C' ? 'Control' : 'Vaccine'","columnPadding":8,"titlePadding":14,"labelOffset":3,
   "encode":{"symbols":{"update":{"shape":{"signal":"datum.value == 'C' ? 'M-1,0H-0.65M-0.45,0H-0.2M0.2,0H0.45M0.65,0H1M-0.15,0A0.15,0.15,0,1,1,0.15,0A0.15,0.15,0,1,1,-0.15,0' : 'M-1,0H1M0,-0.22L0.2,0.13L-0.2,0.13Z'"},"fill":{"value":"transparent"},"strokeDash":{"value":[]}}}}}},
  "strokeDash":{"condition":{"test":"datum.g == 'C'","value":[4,3]},"value":[1,0]}
 }},
{"transform":[{"filter":"datum.a != null"}],
 "mark":{"type":"point","shape":"M-0.25,-1L0.25,-1L0.25,0L0.7,0L0,1L-0.7,0L-0.25,0Z","filled":true,"color":"#1f6e1f","size":121,"opacity":1},
 "encoding":{
  "x":{"field":"a","type":"quantitative","axis":{"title":null}},
  "y":{"datum":0.28,"type":"quantitative","axis":{"title":null}}
 }},
{"transform":[{"filter":"datum.n != null"}],
 "mark":{"type":"rect","fill":"#d6d6d6","stroke":"#7f7f7f","strokeWidth":1},
 "encoding":{
  "x":{"datum":-0.6,"type":"quantitative","axis":{"title":null}},
  "x2":{"datum":12.6},
  "y":{"datum":3.33,"type":"quantitative","axis":{"title":null}},
  "y2":{"datum":3.65}
 }},
{"transform":[{"filter":"datum.n != null"}],
 "mark":{"type":"text","fontSize":11.5,"color":"#1a1a1a","baseline":"middle","align":"center"},
 "encoding":{
  "x":{"datum":6,"type":"quantitative","axis":{"title":null}},
  "y":{"datum":3.49,"type":"quantitative","axis":{"title":null}},
  "text":{"field":"n"}
 }},
{"transform":[{"filter":"datum.t == 'OD 450nm'"}],
 "mark":{"type":"text","fontSize":11,"fontWeight":"bold","color":"#000","angle":270,"baseline":"middle","align":"center"},
 "encoding":{
  "x":{"datum":-2.08,"type":"quantitative","axis":{"title":null}},
  "y":{"datum":-0.516,"type":"quantitative","axis":{"title":null}},
  "text":{"field":"t"}
 }},
{"transform":[{"filter":"datum.t == 'Week'"}],
 "mark":{"type":"text","fontSize":11,"fontWeight":"bold","color":"#000","baseline":"middle","align":"center"},
 "encoding":{
  "x":{"datum":13.31,"type":"quantitative","axis":{"title":null}},
  "y":{"datum":-0.58,"type":"quantitative","axis":{"title":null}},
  "text":{"field":"t"}
 }}
]},
"config":{
 "font":"Liberation Sans",
 "view":{"stroke":"#7f7f7f","strokeWidth":1},
 "header":{"labels":false,"title":null,"labelFontSize":0,"labelPadding":0},
 "axis":{"domain":false,"tickColor":"#7f7f7f","tickSize":4,"labelFontSize":11.5,"labelColor":"#333333","labelPadding":2,"gridWidth":1,"labelOverlap":false}
}
}
